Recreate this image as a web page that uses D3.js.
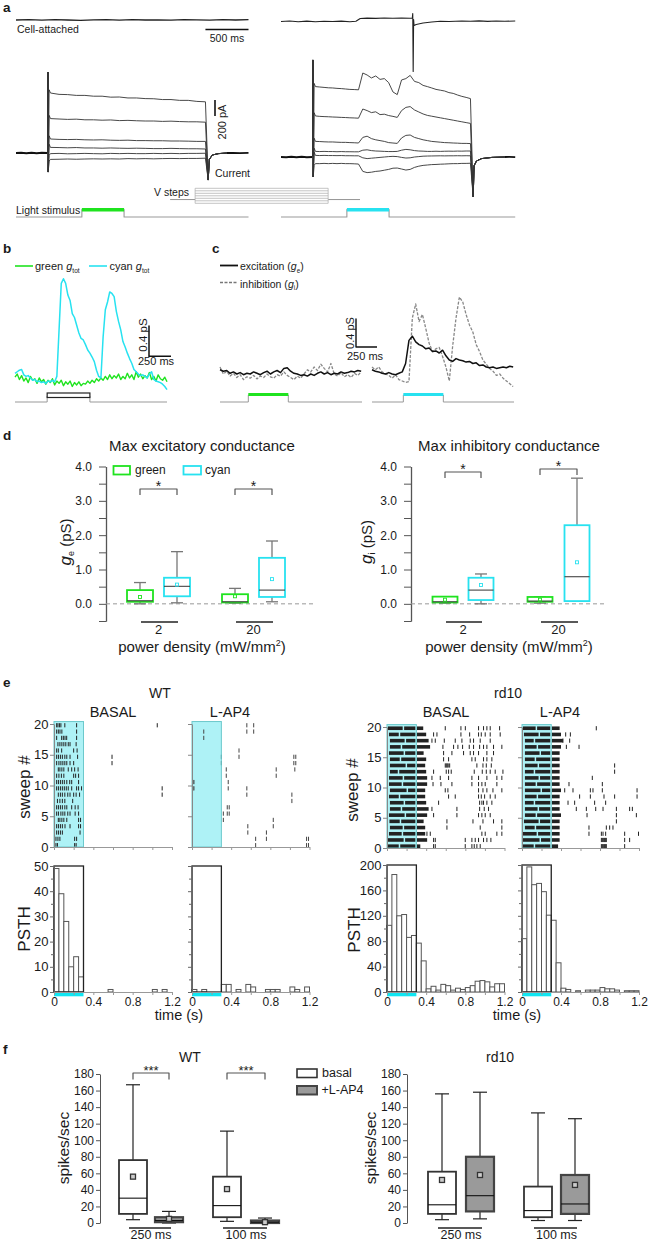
<!DOCTYPE html>
<html><head><meta charset="utf-8">
<script src="https://cdn.jsdelivr.net/npm/d3@7"></script>
<style>body{margin:0;background:#fff}svg{display:block}</style>
</head><body>
<script>
// ================= DATA =================
// --- panel a (time ms, current pA) ---
const aStepTimesL = [400,500,600,700,800,900,1000,1100,1200,1300,1400,1500,1600,1700,1800,1900,2000,2100,2200];
const curL1 = [750,733,730,720,720,710,710,698,700,688,688,680,678,668,668,658,658,645,640];
const curL2 = [430,425,420,423,415,415,410,413,405,408,403,400,400,395,398,393,390,390,385];
const curL3 = [175,170,168,170,165,163,165,160,158,160,155,155,153,153,150,150,148,145,145];
const curL4 = [70,68,65,68,63,63,60,63,60,58,60,58,55,55,58,55,53,53,50];
const curL5 = [-8,-5,-10,-8,-5,-8,-10,-5,-8,-5,-8,-8,-5,-8,-5,-8,-5,-5,-3];
const curL6 = [-80,-78,-75,-78,-75,-73,-75,-73,-75,-70,-73,-70,-73,-70,-68,-70,-68,-68,-65];
const aStepTimesR = [400,450,500,550,600,650,700,750,800,850,900,950,1000,1050,1100,1150,1200,1250,1300,1350,1400,1450,1500,1550,1600,1650,1700,1750,1800,1850,1900,1950,2000,2050,2100,2150,2200];
const curR1 = [880,875,870,865,863,858,855,850,845,843,840,1050,1025,988,1013,970,980,930,813,780,963,980,1020,945,930,895,880,863,845,835,825,805,795,775,758,745,730];
const curR2 = [513,508,505,503,500,498,495,493,490,488,485,600,580,555,565,530,535,518,508,495,580,620,630,588,563,538,520,510,500,490,480,470,460,450,440,430,420];
const curR3 = [195,193,190,188,188,185,183,183,180,178,175,245,260,230,215,205,195,180,175,170,238,270,275,245,230,215,205,195,190,185,180,178,175,173,170,170,168];
const curR4 = [70,68,70,68,68,66,68,66,66,65,65,85,90,80,75,73,70,68,68,70,85,95,90,80,75,73,70,70,72,70,72,73,72,74,73,75,75];
const curR5 = [20,18,20,18,18,17,18,16,16,15,15,-10,-20,-15,-10,-5,0,5,8,5,-5,-13,-10,0,5,10,12,13,14,15,14,15,15,16,15,16,15];
const curR6 = [-83,-83,-80,-83,-80,-83,-80,-83,-83,-85,-88,-180,-195,-190,-180,-175,-165,-155,-140,-138,-150,-163,-155,-130,-115,-105,-100,-95,-93,-90,-88,-85,-83,-83,-80,-80,-78];
const onsetL = [[366,0],[370,1012],[374,-238],[380,300]];
const offsetL = [[2228,0],[2232,-338],[2245,-80],[2280,-25],[2350,-8],[2450,0]];
const onsetR = [[366,0],[370,1213],[374,-250],[380,300]];
const offsetR = [[2228,0],[2232,-500],[2242,-110],[2270,-50],[2330,-20],[2450,-5],[2600,0]];
const baseL = [[0,0],[60,3],[120,-2],[180,2],[240,-3],[300,2],[366,0]];
const basePostL = [[2450,0],[2520,2],[2600,-2],[2700,1]];
const baseR = [[0,0],[60,-3],[120,2],[180,-2],[240,3],[300,-2],[366,0]];
const basePostR = [[2600,0],[2650,2],[2720,-1]];
const caTimes = [0,150,300,450,600,750,900,1050,1200,1350,1500,1650,1800,1950,2100,2250,2400,2550,2700];
const caL = [0,0.3,-0.2,0.4,0,-0.3,0.2,0.4,-0.1,0.3,0,0.2,-0.2,0.3,0.1,-0.1,0.4,0,0.3];
const caR = [[0,0],[100,0.5],[200,-0.3],[300,0.4],[400,-0.2],[500,0.3],[600,0],[700,0.4],[800,-0.2],[870,0.2],[920,3],[1000,3.4],[1100,3.1],[1200,3.5],[1300,3.2],[1400,3.4],[1500,3.3],[1525,3.5],[1530,8],[1535,-50],[1540,2],[1545,-4],[1570,-3],[1650,-1.5],[1750,-0.5],[1850,0.3],[1950,0],[2100,0.5],[2200,0.2],[2300,0.6],[2400,0.1],[2500,0.5],[2600,0.2],[2720,0.5]];
const lightOnOff = [765,1255];
const vStepTimes = [1790,2080,3625,3995];
const vLevels = [-100,-80,-60,-40,-20,0,20];
const vHold = -70;
// --- panel b (time ms step 25, conductance pS) ---
const bCyan = [0.28,0.30,0.32,0.33,0.26,0.24,0.25,0.22,0.19,0.20,0.17,0.18,0.16,0.17,0.15,0.18,0.17,0.19,0.17,0.24,0.84,1.44,1.50,1.44,1.29,1.22,1.05,1.00,0.90,0.80,0.73,0.71,0.65,0.58,0.54,0.49,0.43,0.32,0.24,0.22,0.75,1.10,1.20,1.33,1.31,1.27,1.08,0.95,0.84,0.69,0.62,0.54,0.47,0.41,0.33,0.30,0.27,0.25,0.26,0.24,0.22,0.27,0.30,0.20,0.18,0.17,0.16,0.14,0.11,0.07];
const bGreen = [0.23,0.27,0.20,0.25,0.18,0.22,0.16,0.24,0.19,0.21,0.15,0.22,0.17,0.20,0.14,0.19,0.16,0.21,0.13,0.18,0.15,0.19,0.12,0.17,0.14,0.18,0.11,0.16,0.13,0.17,0.12,0.15,0.14,0.18,0.15,0.19,0.16,0.21,0.18,0.22,0.19,0.24,0.20,0.26,0.21,0.25,0.22,0.27,0.20,0.24,0.21,0.28,0.22,0.26,0.20,0.30,0.23,0.27,0.21,0.25,0.22,0.29,0.20,0.24,0.18,0.26,0.21,0.19,0.23,0.17];
const bDt = 25;
const bStim = [365,850];
// --- panel c (time ms step 40, pS) ---
const cExL = [0.36,0.34,0.35,0.31,0.33,0.30,0.32,0.29,0.31,0.30,0.33,0.31,0.29,0.32,0.34,0.30,0.33,0.35,0.32,0.38,0.39,0.34,0.31,0.30,0.28,0.29,0.27,0.30,0.28,0.31,0.33,0.30,0.32,0.29,0.31,0.30,0.33,0.31,0.32,0.34,0.33,0.35,0.34];
const cInL = [0.40,0.30,0.34,0.27,0.31,0.25,0.29,0.22,0.26,0.24,0.28,0.23,0.27,0.25,0.30,0.26,0.24,0.29,0.27,0.33,0.28,0.25,0.22,0.27,0.24,0.30,0.36,0.33,0.40,0.35,0.44,0.38,0.33,0.45,0.30,0.27,0.32,0.26,0.29,0.25,0.31,0.28,0.33];
const cExR = [0.36,0.34,0.33,0.31,0.30,0.32,0.30,0.29,0.31,0.33,0.45,0.78,0.84,0.76,0.72,0.70,0.66,0.67,0.62,0.63,0.60,0.64,0.56,0.50,0.48,0.52,0.50,0.49,0.47,0.48,0.45,0.46,0.42,0.43,0.40,0.39,0.40,0.38,0.39,0.40,0.39,0.41,0.40];
const cInR = [0.40,0.36,0.40,0.33,0.30,0.28,0.24,0.29,0.22,0.20,0.18,0.19,1.10,1.30,1.05,1.15,0.95,0.74,0.62,0.66,0.68,0.55,0.40,0.20,0.70,1.10,1.40,1.33,1.15,1.00,0.90,0.72,0.62,0.50,0.44,0.38,0.34,0.28,0.30,0.24,0.20,0.16,0.12];
const cDt = 40;
const cStimL = [337,813];
const cStimR = [373,849];
// --- panel d (low, q1, median, q3, high, mean), categories 2 and 20 mW/mm2 ---
const dCats = ["2","20"];
const dExcGreen = [[0.0,0.06,0.09,0.40,0.62,0.20],[0.02,0.04,0.06,0.28,0.45,0.22]];
const dExcCyan  = [[0.03,0.22,0.51,0.76,1.52,0.56],[0.06,0.20,0.40,1.34,1.83,0.72]];
const dInhGreen = [[0.02,0.04,0.06,0.21,0.21,0.12],[0.02,0.06,0.08,0.20,0.20,0.12]];
const dInhCyan  = [[0.0,0.11,0.40,0.76,0.87,0.55],[0.08,0.08,0.79,2.29,3.66,1.21]];
const dTicks = [0,1,2,3,4];
const dMinor = [-0.5,0.5,1.5,2.5,3.5];
// --- panel e rasters: rows from sweep 20 (top) to sweep 1 (bottom), spike times (s) ---
const wtBasalSpikes = [
 [0.027,0.04,0.055,0.07,0.11,0.23,1.05],[0.027,0.044,0.061,0.08,0.23],[0.027,0.078,0.095,0.112,0.129,0.23],
 [0.04,0.06,0.08,0.1,0.12,0.145,0.163,0.225],[0.027,0.044,0.078,0.2,0.235],[0.027,0.045,0.065,0.085,0.11,0.13,0.163,0.24,0.59],
 [0.027,0.05,0.07,0.09,0.11,0.13,0.163,0.2,0.59],[0.044,0.06,0.08,0.1,0.145,0.18,0.21,0.245],[0.027,0.05,0.075,0.1,0.2,0.22,0.25],
 [0.027,0.045,0.065,0.085,0.105,0.13,0.16,0.18,0.25],[0.027,0.045,0.065,0.085,0.105,0.125,0.145,0.18,0.23,0.25,0.28,1.1],
 [0.044,0.065,0.085,0.11,0.14,0.163,0.2,0.225,0.26,1.1],[0.035,0.06,0.085,0.11,0.19],[0.027,0.045,0.065,0.085,0.11,0.13,0.18,0.215,0.245],
 [0.027,0.045,0.07,0.09,0.11,0.14,0.163,0.215,0.25],[0.044,0.06,0.08,0.1,0.13,0.25,0.27],[0.027,0.045,0.065,0.085,0.112,0.163,0.25,0.27],
 [0.027,0.045,0.065,0.085,0.265],[0.02,0.04,0.06,0.21,0.23],[0.02,0.035,0.21,0.225]];
const wtL4Spikes = [
 [0.56,0.63],[0.12,0.56,0.63],[0.12],[],[0.48],[0.30,0.48,1.04,1.06],[0.30,1.04,1.06],[0.35,0.86,1.05],[0.35,0.86],
 [0.01,0.02,0.37],[0.01,0.02,0.37,0.56],[0.56,1.02],[1.02],[0.36,0.38],[0.32,0.36,0.38],[0.32,0.83],[0.57,0.83],
 [0.57,0.76],[0.65,0.76,1.17,1.19],[0.65,1.17,1.19]];
const rdBasalBursts = [
 [[0.01,0.16],[0.175,0.29],[0.305,0.37]],[[0.02,0.12],[0.135,0.29],[0.305,0.40]],[[0.03,0.18],[0.195,0.29],[0.305,0.425]],
 [[0.03,0.14],[0.155,0.29],[0.305,0.44]],[[0.02,0.17],[0.185,0.29],[0.305,0.374]],[[0.03,0.13],[0.145,0.29],[0.305,0.40]],
 [[0.03,0.19],[0.205,0.29],[0.305,0.39]],[[0.03,0.11],[0.125,0.29],[0.305,0.40]],[[0.02,0.16],[0.175,0.29],[0.305,0.41]],
 [[0.02,0.15],[0.165,0.29],[0.305,0.41]],[[0.03,0.2],[0.215,0.29],[0.305,0.39]],[[0.02,0.12],[0.135,0.29],[0.305,0.39]],
 [[0.03,0.17],[0.185,0.29],[0.305,0.40]],[[0.03,0.14],[0.155,0.29],[0.305,0.425]],[[0.02,0.18],[0.195,0.29],[0.305,0.41]],
 [[0.025,0.13],[0.145,0.29],[0.305,0.374]],[[0.03,0.16],[0.175,0.29],[0.305,0.39]],[[0.02,0.15],[0.165,0.29],[0.305,0.39]],
 [[0.01,0.17],[0.185,0.29],[0.305,0.41]],[[0.01,0.12],[0.135,0.29],[0.305,0.34]]];
const rdBasalSpikes = [
 [0.595,0.755,0.80,0.935,0.986,1.02,1.054,1.15],[0.476,0.51,0.755,0.844,0.935,0.963,1.003,1.054,1.156],
 [0.459,0.493,0.585,0.697,0.765,0.85,0.884,0.952,1.054],[0.571,0.68,0.724,0.772,0.84,0.884,0.946,0.986,1.02,1.088,1.173],
 [0.578,0.663,0.782,0.85,0.884,0.935,1.02,1.088],[0.578,0.629,0.867,0.901,0.986,1.02,1.071],
 [0.595,0.605,0.615,0.625,0.64,0.918,0.98,1.014,1.065],[0.476,0.605,0.629,0.656,0.891,0.973,1.014,1.054,1.105,1.184],
 [0.459,0.544,0.629,0.867,0.935,1.02,1.122,1.173],[0.47,0.551,0.663,0.867,0.935,0.969,1.003,1.122],
 [0.595,0.622,0.935,0.98,1.02,1.082,1.173],[0.629,0.697,0.935,0.963,0.997,1.054,1.105],[0.527,0.946,0.969,0.986,1.02,1.071],
 [0.459,0.714,0.946,0.993,1.037],[0.476,0.714,0.935,0.969,1.003,1.054],[0.612,0.878,0.98,1.088,1.173],[0.612,0.952,1.173],
 [0.408,0.442,0.969,1.003,1.122,1.173],[0.476,0.493,0.799,0.867,0.901,0.935,0.986,1.02,1.061],[0.476,0.493,0.799,0.867,0.891,0.918,0.952]];
const rdL4Bursts = [
 [[0.01,0.14],[0.155,0.29],[0.305,0.386]],[[0.02,0.17],[0.185,0.29],[0.305,0.40]],[[0.03,0.12],[0.135,0.29],[0.305,0.42]],
 [[0.03,0.15],[0.165,0.29],[0.305,0.40]],[[0.03,0.18],[0.195,0.29],[0.305,0.386]],[[0.03,0.13],[0.145,0.29],[0.305,0.386]],
 [[0.03,0.16],[0.175,0.29],[0.305,0.386]],[[0.03,0.12],[0.135,0.29],[0.305,0.386]],[[0.03,0.17],[0.185,0.29],[0.305,0.386]],
 [[0.03,0.14],[0.155,0.29],[0.305,0.386]],[[0.03,0.19],[0.205,0.29],[0.305,0.40]],[[0.03,0.15],[0.165,0.29],[0.305,0.386]],
 [[0.03,0.12],[0.135,0.29],[0.305,0.386]],[[0.03,0.16],[0.175,0.29],[0.305,0.386]],[[0.03,0.14],[0.155,0.29],[0.305,0.40]],
 [[0.02,0.17],[0.185,0.29],[0.305,0.386]],[[0.03,0.13],[0.145,0.29],[0.305,0.386]],[[0.01,0.15],[0.165,0.29],[0.305,0.386]],
 [[0.005,0.18],[0.195,0.29],[0.305,0.386]],[[0.005,0.12],[0.135,0.29],[0.305,0.37]]];
const rdL4Spikes = [
 [0.762],[0.448,0.496],[0.42,0.489],[0.455,0.585],[],[],[0.95],[0.95],[0.721],[0.482,0.824],
 [0.438,0.523,0.701,0.728,0.824,1.18],[0.591,0.701,0.841,0.95,1.18],[0.472,0.54,0.745,0.858],
 [0.557,0.66,0.756,0.831,0.968,1.104,1.132],[0.667,0.968,1.173],[0.968],[0.687,0.865,0.899,0.933],
 [0.687,0.814,0.831,0.858,1.053,1.195],[0.814,0.824,0.834,0.845,0.855,0.865,1.053,1.104],[0.814,0.824,0.834,0.845,0.855,0.865,1.053]];
// PSTH counts, 0.05 s bins from 0 to 1.2 s
const wtBasalPSTH = [49,39,28,10,14,6,0,0,0,0,0,1,0,0,0,0,0,0,0,0,1,0,1,0];
const wtL4PSTH    = [1,0,1,0,0,0,3,3,0,1,0,3,2,0,0,1,1,1,0,0,2,1,0,2];
const rdBasalPSTH = [105,185,120,122,86,89,77,49,5,9,3,12,10,3,6,4,7,10,17,18,16,8,13,13];
const rdL4PSTH    = [84,197,169,171,158,121,113,46,6,4,0,2,0,3,3,3,7,5,5,3,0,2,2,2];
const psthBin = 0.05;
const stimWindow = [0,0.3];
// --- panel f (low, q1, median, q3, high, mean) spikes/sec, groups 250 ms and 100 ms ---
const fGroups = ["250 ms","100 ms"];
const fWTBasal = [[4,11,30,76,167,56],[2,7,21,56,111,41]];
const fWTL4    = [[0,1,3,7,14,5],[0,0,1,3,6,1]];
const fRdBasal = [[4,11,22,62,156,52],[3,7,15,44,133,null]];
const fRdL4    = [[5,14,33,80,158,58],[3,11,23,58,126,46]];
const fTicks = [0,20,40,60,80,100,120,140,160,180];

// ================= DRAWING =================
const FONT = '"Liberation Sans", Arial, Helvetica, sans-serif';
const GREEN = "#1fe31f", CYAN = "#27e2f0", INK = "#1a1a1a";
const svg = d3.select("body").append("svg").attr("width",650).attr("height",1241).style("font-family",FONT);

function T(x,y,str,o={}){
  const t = svg.append("text").attr("x",x).attr("y",y).attr("font-size",o.s||11)
    .attr("fill",o.c||INK).attr("text-anchor",o.a||"start");
  if(o.w) t.attr("font-weight",o.w);
  if(o.r) t.attr("transform",`rotate(${o.r},${x},${y})`);
  if(str!=null) t.text(str);
  return t;
}
function P(pts,o={}){
  return svg.append("path").attr("d",d3.line()(pts)).attr("fill","none")
    .attr("stroke",o.c||"#222").attr("stroke-width",o.w||1)
    .attr("stroke-dasharray",o.d||null).attr("stroke-linejoin","round");
}
function styleAxis(g,color,fs){
  g.attr("font-family",FONT).attr("font-size",fs);
  g.selectAll(".domain").attr("stroke",color);
  g.selectAll(".tick line").attr("stroke",color);
  g.selectAll(".tick text").attr("fill",INK);
}

// panel letters
[["a",3,11.5],["b",3,253],["c",212,253],["d",3,440],["e",3,687],["f",3,1054]]
  .forEach(([s,x,y])=>T(x,y,s,{s:13.5,w:"bold"}));

// ---------- Panel a ----------
const aX = d3.scaleLinear().domain([0,2700]).range([16,248.5]);
const aXR = d3.scaleLinear().domain([0,2700]).range([281,513.5]);
const aYL = d3.scaleLinear().domain([0,200]).range([153,137]);
const aYR = d3.scaleLinear().domain([0,200]).range([157,141]);
const caYL = d3.scaleLinear().domain([0,10]).range([20,10]);
const caYR = d3.scaleLinear().domain([0,10]).range([21.5,11.5]);

P(caTimes.map((t,i)=>[aX(t),caYL(caL[i])]),{c:"#222",w:1.3});
P(caR.map(d=>[aXR(d[0]),caYR(d[1])]),{c:"#222",w:1.1});
T(17,33,"Cell-attached",{s:10.5});
P([[aX(2200),29.5],[aX(2700),29.5]],{c:"#111",w:1.6});
T(aX(2450),42,"500 ms",{s:10.5,a:"middle"});

function currentFamily(xs,ys,times,traces,onset,offset,pre,post){
  P(pre.map(d=>[xs(d[0]),ys(d[1])]),{c:"#111",w:2});
  P(post.map(d=>[xs(d[0]),ys(d[1])]),{c:"#111",w:1.8});
  traces.forEach(tr=>{
    const pts = onset.slice(0,3).map(d=>[xs(d[0]),ys(d[1])])
      .concat(times.map((t,i)=>[xs(t),ys(tr[i])]))
      .concat(offset.slice(1).map(d=>[xs(d[0]),ys(d[1])]));
    pts.splice(3,0,[xs(times[0]-15),ys(tr[0]+ (tr[0]>0?40:-20))]);
    P(pts,{c:"#333",w:0.9});
  });
}
currentFamily(aX,aYL,aStepTimesL,[curL1,curL2,curL3,curL4,curL5,curL6],onsetL,offsetL,baseL,basePostL);
currentFamily(aXR,aYR,aStepTimesR,[curR1,curR2,curR3,curR4,curR5,curR6],onsetR,offsetR,baseR,basePostR);
// 200 pA scale bar
P([[215,aYL(0)-37],[215,aYL(200)-37]],{c:"#111",w:1.6});
T(225.5,122,"200 pA",{s:11,a:"middle",r:-90});
T(215,177,"Current",{s:10.5});

// V steps
const vY = d3.scaleLinear().domain([-100,20]).range([203.3,188.3]);
P([[aX(vStepTimes[0]),vY(vHold)],[aX(vStepTimes[1]),vY(vHold)]],{c:"#888",w:0.9});
P([[aX(vStepTimes[2]),vY(vHold)],[aX(vStepTimes[3]),vY(vHold)]],{c:"#888",w:0.9});
vLevels.forEach(v=>P([[aX(vStepTimes[1]),vY(v)],[aX(vStepTimes[2]),vY(v)]],{c:"#aaa",w:0.7}));
P([[aX(vStepTimes[1]),vY(vLevels[0])],[aX(vStepTimes[1]),vY(vLevels[6])]],{c:"#aaa",w:0.7});
P([[aX(vStepTimes[2]),vY(vLevels[0])],[aX(vStepTimes[2]),vY(vLevels[6])]],{c:"#aaa",w:0.7});
T(154,196,"V steps",{s:10.5});

// light stimulus
const lY = d3.scaleLinear().domain([0,1]).range([217,209.5]);
function lightTrace(xs,color,end){
  P([[xs(0),lY(0)],[xs(lightOnOff[0]),lY(0)],[xs(lightOnOff[0]),lY(1)],[xs(lightOnOff[1]),lY(1)],[xs(lightOnOff[1]),lY(0)],[xs(end),lY(0)]],{c:"#999",w:1.1});
  svg.append("rect").attr("x",xs(lightOnOff[0])).attr("y",lY(1)-1.5).attr("width",xs(lightOnOff[1])-xs(lightOnOff[0])).attr("height",3.5).attr("fill",color);
}
lightTrace(aX,GREEN,2700);
lightTrace(aXR,CYAN,2720);
T(16,213.5,"Light stimulus",{s:10.5});

// ---------- Panel b ----------
const bX = d3.scaleLinear().domain([0,1725]).range([15,167]);
const bY = d3.scaleLinear().domain([0,1]).range([395,317.5]);
P(bGreen.map((v,i)=>[bX(i*bDt),bY(v)]),{c:GREEN,w:1.4});
P(bCyan.map((v,i)=>[bX(i*bDt),bY(v)]),{c:CYAN,w:1.5});
P([[bX(0),402],[bX(bStim[0]),402],[bX(bStim[0]),396],[bX(bStim[1]),396],[bX(bStim[1]),402],[bX(1725),402]],{c:"#999",w:1});
svg.append("rect").attr("x",bX(bStim[0])).attr("y",393).attr("width",bX(bStim[1])-bX(bStim[0])).attr("height",4.5)
  .attr("fill","#fff").attr("stroke","#222").attr("stroke-width",1.2);
P([[149,bY(0)-38],[149,bY(0.4)-38],[149,bY(0)-38]],{c:"#111",w:1.5});
P([[149,bY(0)-38.75],[149+bX(250)-bX(0),bY(0)-38.75]],{c:"#111",w:1.5});
T(147,335,"0.4 pS",{s:11.5,a:"middle",r:-90});
T(138,364.5,"250 ms",{s:11});
function gLegend(x,y,pre,sub,post,fs){
  const t=T(x,y,null,{s:fs});
  t.append("tspan").text(pre);
  t.append("tspan").attr("font-style","italic").text("g");
  t.append("tspan").attr("font-size",fs*0.6).attr("dy",fs*0.28).text(sub);
  if(post) t.append("tspan").attr("dy",-fs*0.28).text(post);
  return t;
}
P([[15,266],[33,266]],{c:GREEN,w:1.6});
gLegend(35,269.5,"green ","tot",null,11);
P([[89,266],[107,266]],{c:CYAN,w:1.6});
gLegend(109.5,269.5,"cyan ","tot",null,11);

// ---------- Panel c ----------
const cXL = d3.scaleLinear().domain([0,1690]).range([220,362]);
const cXR = d3.scaleLinear().domain([0,1690]).range([372,514]);
const cY = d3.scaleLinear().domain([0,1]).range([395,325]);
P(cInL.map((v,i)=>[cXL(i*cDt),cY(v)]),{c:"#888",w:1.3,d:"3,1.5"});
P(cExL.map((v,i)=>[cXL(i*cDt),cY(v)]),{c:"#111",w:1.5});
P(cInR.map((v,i)=>[cXR(i*cDt),cY(v)]),{c:"#888",w:1.3,d:"3,1.5"});
P(cExR.map((v,i)=>[cXR(i*cDt),cY(v)]),{c:"#111",w:1.5});
function cStim(xs,st,color){
  P([[xs(0),402],[xs(st[0]),402],[xs(st[0]),395],[xs(st[1]),395],[xs(st[1]),402],[xs(1690),402]],{c:"#999",w:1});
  svg.append("rect").attr("x",xs(st[0])).attr("y",393).attr("width",xs(st[1])-xs(st[0])).attr("height",3).attr("fill",color);
}
cStim(cXL,cStimL,GREEN);
cStim(cXR,cStimR,CYAN);
P([[356,cY(0)-48],[356,cY(0.4)-48],[356,cY(0)-48],[356+cXL(250)-cXL(0),cY(0)-48]],{c:"#111",w:1.4});
T(354,333,"0.4 pS",{s:11,a:"middle",r:-90});
T(347,360,"250 ms",{s:11});
P([[220,265.5],[238,265.5]],{c:"#111",w:1.8});
gLegend(240,270,"excitation (","e",")",10.5);
P([[220,282.5],[238,282.5]],{c:"#777",w:1.3,d:"3,1.5"});
gLegend(240,287.5,"inhibition (","i",")",10.5);

// ---------- Panel d ----------
const dY = d3.scaleLinear().domain([-0.5,4]).range([621,466.5]);
function boxD(cx,st,color,w){
  const [lo,q1,md,q3,hi,mn]=st;
  const g=svg.append("g");
  g.append("line").attr("x1",cx).attr("x2",cx).attr("y1",dY(q3)).attr("y2",dY(hi)).attr("stroke","#777").attr("stroke-width",1.3);
  g.append("line").attr("x1",cx).attr("x2",cx).attr("y1",dY(q1)).attr("y2",dY(lo)).attr("stroke","#777").attr("stroke-width",1.3);
  g.append("line").attr("x1",cx-6).attr("x2",cx+6).attr("y1",dY(hi)).attr("y2",dY(hi)).attr("stroke","#777").attr("stroke-width",1.3);
  g.append("line").attr("x1",cx-6).attr("x2",cx+6).attr("y1",dY(lo)).attr("y2",dY(lo)).attr("stroke","#777").attr("stroke-width",1.3);
  g.append("rect").attr("x",cx-w/2).attr("y",dY(q3)).attr("width",w).attr("height",Math.max(1,dY(q1)-dY(q3)))
    .attr("fill","#fff").attr("stroke",color).attr("stroke-width",1.8);
  g.append("line").attr("x1",cx-w/2).attr("x2",cx+w/2).attr("y1",dY(md)).attr("y2",dY(md)).attr("stroke","#444").attr("stroke-width",1.1);
  g.append("rect").attr("x",cx-1.5).attr("y",dY(mn)-1.5).attr("width",3).attr("height",3).attr("fill","none").attr("stroke",color).attr("stroke-width",0.9);
}
function panelD(axX,centers,greens,cyans,title,titleX,sub,brY,w,endX,labelX){
  T(titleX,450.5,title,{s:15,a:"middle"});
  const g=svg.append("g").attr("transform",`translate(${axX},0)`)
    .call(d3.axisLeft(dY).tickValues(dTicks).tickFormat(d3.format(".1f")).tickSize(7).tickPadding(7).tickSizeOuter(0));
  styleAxis(g,"#555",12);
  g.selectAll(".domain").attr("stroke-width",1.3);
  const gm=svg.append("g").attr("transform",`translate(${axX},0)`)
    .call(d3.axisLeft(dY).tickValues(dMinor).tickFormat("").tickSize(7).tickSizeOuter(0));
  styleAxis(gm,"#555",12);
  P([[axX,dY(0)],[endX,dY(0)]],{c:"#999",w:1,d:"4,3"});
  centers.forEach((c,i)=>{
    boxD(c[0],greens[i],GREEN,w);
    boxD(c[1],cyans[i],CYAN,w);
    P([[c[0]+1,dY(-0.53)],[c[1]+1,dY(-0.53)]],{c:"#222",w:1.4});
    T((c[0]+c[1])/2,633.5,dCats[i],{s:13,a:"middle"});
    const by=brY[i];
    P([[c[0],by+6],[c[0],by],[c[1],by],[c[1],by+6]],{c:"#555",w:1.2});
    T((c[0]+c[1])/2,by+1.5,"*",{s:14,a:"middle"});
  });
  const t=T(titleX,652,"power density (mW/mm",{s:15,a:"middle"});
  t.append("tspan").attr("font-size",9).attr("dy",-6).text("2");
  t.append("tspan").attr("dy",6).text(")");
  const yl=T(labelX,542,null,{s:15,a:"middle",r:-90});
  yl.append("tspan").attr("font-style","italic").attr("font-size",17).text("g");
  yl.append("tspan").attr("font-size",9).attr("dy",3).text(sub);
  yl.append("tspan").attr("dy",-3).text(" (pS)");
}
panelD(106,[[140,177],[235,272]],dExcGreen,dExcCyan,"Max excitatory conductance",202,"e",[489,489],26,313,71);
panelD(411,[[445,481],[540,577]],dInhGreen,dInhCyan,"Max inhibitory conductance",509,"i",[472,469],25,607,372);
// legend d
svg.append("rect").attr("x",113.5).attr("y",466).attr("width",16.5).attr("height",8.5).attr("fill","#fff").attr("stroke",GREEN).attr("stroke-width",1.8);
T(135,474,"green",{s:12});
svg.append("rect").attr("x",183.5).attr("y",466).attr("width",17.5).attr("height",8.5).attr("fill","#fff").attr("stroke",CYAN).attr("stroke-width",1.8);
T(205,474,"cyan",{s:12});

// ---------- Panel e ----------
const rowPos = k => 0.3 + (k-1)*1.026;
function raster(x0,x1,yb,yt,spikes,bursts,labels,spikeColor){
  const x=d3.scaleLinear().domain([0,1.2]).range([x0,x1]);
  const y=d3.scaleLinear().domain([0,20]).range([yb,yt]);
  svg.append("rect").attr("x",x(stimWindow[0])).attr("y",y(20.4)).attr("width",x(stimWindow[1])-x(stimWindow[0]))
    .attr("height",y(0)-y(20.4)).attr("fill","#aef2f6");
  if(bursts){
    const segs=bursts.flatMap((row,i)=>row.map(s=>({s,k:20-i})));
    svg.append("g").selectAll("rect").data(segs).join("rect")
      .attr("x",d=>x(d.s[0])).attr("width",d=>x(d.s[1])-x(d.s[0]))
      .attr("y",d=>y(rowPos(d.k))-1.8).attr("height",3.6).attr("fill","#222");
  }
  const pts=spikes.flatMap((row,i)=>row.map(t=>({t,k:20-i})));
  svg.append("g").selectAll("line").data(pts).join("line")
    .attr("x1",d=>x(d.t)).attr("x2",d=>x(d.t))
    .attr("y1",d=>y(rowPos(d.k))-2.1).attr("y2",d=>y(rowPos(d.k))+2.1)
    .attr("stroke",spikeColor).attr("stroke-width",1);
  svg.append("rect").attr("x",x(stimWindow[0])).attr("y",y(20.4)).attr("width",x(stimWindow[1])-x(stimWindow[0]))
    .attr("height",y(0)-y(20.4)).attr("fill","none").attr("stroke","#6cc9cc").attr("stroke-width",1);
  const ga=svg.append("g").attr("transform",`translate(${x0},0)`)
    .call(d3.axisLeft(y).tickValues([0,5,10,15,20]).tickSize(4).tickPadding(1.5).tickSizeOuter(0).tickFormat(labels?d3.format("d"):""));
  styleAxis(ga,"#888",13);
  const gb=svg.append("g").attr("transform",`translate(0,${yb})`)
    .call(d3.axisBottom(x).tickValues([0,0.2,0.4,0.6,0.8,1.0,1.2]).tickSize(3).tickFormat("").tickSizeOuter(0));
  styleAxis(gb,"#999",12);
}
function psth(x0,x1,yb,yt,ymax,vals,major,minor,labels){
  const x=d3.scaleLinear().domain([0,1.2]).range([x0,x1]);
  const y=d3.scaleLinear().domain([0,ymax]).range([yb,yt]);
  const bars=vals.map((v,i)=>({i,v})).filter(d=>d.v>0);
  svg.append("g").selectAll("rect").data(bars).join("rect")
    .attr("x",d=>x(d.i*psthBin)).attr("width",x(psthBin)-x(0))
    .attr("y",d=>y(d.v)).attr("height",d=>y(0)-y(d.v))
    .attr("fill","#fff").attr("stroke","#555").attr("stroke-width",1);
  svg.append("rect").attr("x",x(stimWindow[0])).attr("y",y(ymax)).attr("width",x(stimWindow[1])-x(stimWindow[0]))
    .attr("height",y(0)-y(ymax)).attr("fill","none").attr("stroke","#222").attr("stroke-width",1.3);
  svg.append("rect").attr("x",x(stimWindow[0])).attr("y",yb+0.5).attr("width",x(stimWindow[1])-x(stimWindow[0]))
    .attr("height",3.8).attr("fill","#10e6f2");
  const ga=svg.append("g").attr("transform",`translate(${x0},0)`)
    .call(d3.axisLeft(y).tickValues(major).tickSize(4).tickPadding(1.5).tickSizeOuter(0).tickFormat(labels?d3.format("d"):""));
  styleAxis(ga,"#666",13);
  const gm=svg.append("g").attr("transform",`translate(${x0},0)`)
    .call(d3.axisLeft(y).tickValues(minor).tickSize(3).tickFormat("").tickSizeOuter(0));
  styleAxis(gm,"#666",13);
  const gb=svg.append("g").attr("transform",`translate(0,${yb})`)
    .call(d3.axisBottom(x).tickValues([0,0.4,0.8,1.2]).tickSize(3).tickPadding(2).tickSizeOuter(0).tickFormat(d3.format("")));
  styleAxis(gb,"#999",12);
  const gb2=svg.append("g").attr("transform",`translate(0,${yb})`)
    .call(d3.axisBottom(x).tickValues([0.2,0.6,1.0]).tickSize(3).tickFormat("").tickSizeOuter(0));
  styleAxis(gb2,"#999",12);
}
T(160,698,"WT",{s:14,a:"middle"});
T(113,717,"BASAL",{s:14.5,a:"middle"});
T(230,717,"L-AP4",{s:14.5,a:"middle"});
T(508,698,"rd10",{s:14,a:"middle"});
T(446,717,"BASAL",{s:14.5,a:"middle"});
T(560,717,"L-AP4",{s:14.5,a:"middle"});
raster(54,172,847,724,wtBasalSpikes,null,true,"#222");
raster(192,309.5,847,724,wtL4Spikes,null,false,"#444");
raster(387,504.5,848,727,rdBasalSpikes,rdBasalBursts,true,"#222");
raster(522,639,848,727,rdL4Spikes,rdL4Bursts,false,"#222");
psth(54,172,992,866,50,wtBasalPSTH,[0,10,20,30,40,50],[5,15,25,35,45],true);
psth(192,309.5,992,866,50,wtL4PSTH,[0,10,20,30,40,50],[5,15,25,35,45],false);
psth(387,504.5,992,865,200,rdBasalPSTH,[0,40,80,120,160,200],[20,60,100,140,180],true);
psth(522,639,992,865,200,rdL4PSTH,[0,40,80,120,160,200],[20,60,100,140,180],false);
T(30,787,"sweep #",{s:17,a:"middle",r:-90});
T(358,790,"sweep #",{s:17,a:"middle",r:-90});
T(30,929,"PSTH",{s:17,a:"middle",r:-90});
T(360,930,"PSTH",{s:17,a:"middle",r:-90});
T(179,1020,"time (s)",{s:14.5,a:"middle"});
T(517,1020,"time (s)",{s:14.5,a:"middle"});

// ---------- Panel f ----------
const fY = d3.scaleLinear().domain([0,180]).range([1223,1074]);
function boxF(cx,st,filled){
  const [lo,q1,md,q3,hi,mn]=st; const w=28;
  const g=svg.append("g");
  const sc=filled?"#444":"#333";
  g.append("line").attr("x1",cx).attr("x2",cx).attr("y1",fY(q3)).attr("y2",fY(hi)).attr("stroke","#222").attr("stroke-width",1.2);
  g.append("line").attr("x1",cx).attr("x2",cx).attr("y1",fY(q1)).attr("y2",fY(lo)).attr("stroke","#222").attr("stroke-width",1.2);
  g.append("line").attr("x1",cx-7).attr("x2",cx+7).attr("y1",fY(hi)).attr("y2",fY(hi)).attr("stroke","#222").attr("stroke-width",1.2);
  g.append("line").attr("x1",cx-7).attr("x2",cx+7).attr("y1",fY(lo)).attr("y2",fY(lo)).attr("stroke","#222").attr("stroke-width",1.2);
  g.append("rect").attr("x",cx-w/2).attr("y",fY(q3)).attr("width",w).attr("height",Math.max(1.5,fY(q1)-fY(q3)))
    .attr("fill",filled?"#9a9a9a":"#fff").attr("stroke",sc).attr("stroke-width",filled?2.2:1.8);
  g.append("line").attr("x1",cx-w/2).attr("x2",cx+w/2).attr("y1",fY(md)).attr("y2",fY(md)).attr("stroke","#111").attr("stroke-width",1.1);
  if(mn!=null) g.append("rect").attr("x",cx-2.5).attr("y",fY(mn)-2.5).attr("width",5).attr("height",5)
    .attr("fill","#ccc").attr("stroke","#333").attr("stroke-width",1.3);
}
function panelF(axX,centers,basal,l4,title,titleX,labelX,brackets){
  T(titleX,1062,title,{s:14,a:"middle"});
  const g=svg.append("g").attr("transform",`translate(${axX},0)`)
    .call(d3.axisLeft(fY).tickValues(fTicks).tickSize(4).tickPadding(2).tickSizeOuter(0));
  styleAxis(g,"#555",12);
  T(labelX,1148,"spikes/sec",{s:15.5,a:"middle",r:-90});
  centers.forEach((c,i)=>{
    boxF(c[0],basal[i],false);
    boxF(c[1],l4[i],true);
    P([[c[0]-4,1228],[c[1]+2,1228]],{c:"#222",w:1.4});
    T((c[0]+c[1])/2,1239,fGroups[i],{s:12.5,a:"middle"});
    if(brackets){
      P([[c[0],1079.5],[c[0],1073],[c[1],1073],[c[1],1079.5]],{c:"#555",w:1.2});
      T((c[0]+c[1])/2,1075,"***",{s:13,a:"middle"});
    }
  });
}
panelF(100,[[133,169],[227,265]],fWTBasal,fWTL4,"WT",190,69,true);
panelF(407,[[442,480],[538,575]],fRdBasal,fRdL4,"rd10",500,376,false);
svg.append("rect").attr("x",297).attr("y",1069).attr("width",20).attr("height",8.5).attr("fill","#fff").attr("stroke","#333").attr("stroke-width",1.6);
T(322,1077,"basal",{s:12.5});
svg.append("rect").attr("x",297).attr("y",1086).attr("width",20).attr("height",8.5).attr("fill","#9a9a9a").attr("stroke","#444").attr("stroke-width",2);
T(321.5,1094,"+L-AP4",{s:12.5});
</script>
</body></html>
